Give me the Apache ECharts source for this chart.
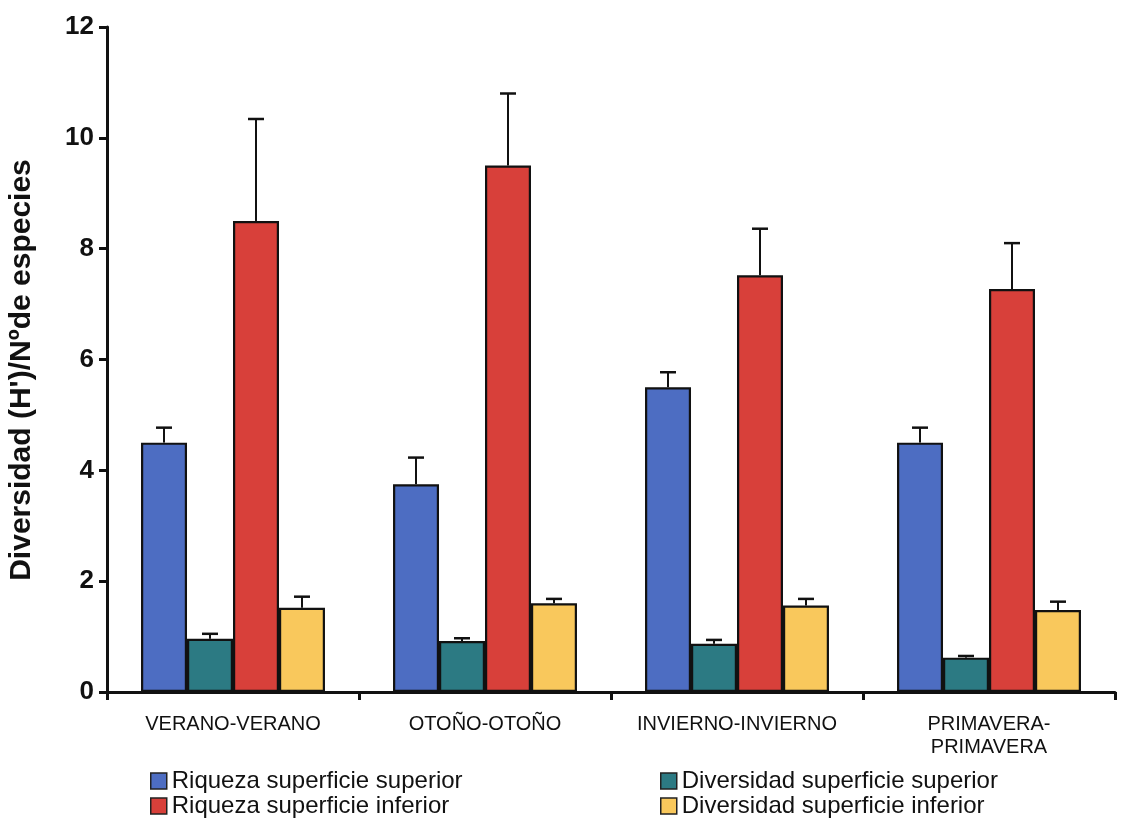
<!DOCTYPE html>
<html>
<head>
<meta charset="utf-8">
<script src="https://cdn.jsdelivr.net/npm/echarts@6/dist/echarts.min.js"></script>
<style>
  html, body { margin: 0; padding: 0; background: #fff; }
  #chart { width: 1121px; height: 830px; }
</style>
</head>
<body>
<div id="chart"></div>
<script>
// Seasonal comparison: richness and Shannon diversity on upper / lower surfaces
const categories = ['VERANO-VERANO', 'OTOÑO-OTOÑO', 'INVIERNO-INVIERNO', 'PRIMAVERA-\nPRIMAVERA'];
const seriesNames = [
  'Riqueza superficie superior',
  'Diversidad superficie superior',
  'Riqueza superficie inferior',
  'Diversidad superficie inferior'
];
const riquezaSup = [4.5, 3.75, 5.5, 4.5];
const diversidadSup = [0.96, 0.92, 0.87, 0.62];
const riquezaInf = [8.5, 9.5, 7.52, 7.27];
const diversidadInf = [1.52, 1.6, 1.56, 1.48];
// standard deviations (upper whisker only)
const riquezaSupErr = [0.27, 0.48, 0.27, 0.27];
const diversidadSupErr = [0.09, 0.05, 0.07, 0.03];
const riquezaInfErr = [1.84, 1.3, 0.84, 0.83];
const diversidadInfErr = [0.2, 0.08, 0.12, 0.15];
const yTicks = [0, 2, 4, 6, 8, 10, 12];
const yTitle = "Diversidad (H')/Nºde especies";

const values = [riquezaSup, diversidadSup, riquezaInf, diversidadInf];
const errors = [riquezaSupErr, diversidadSupErr, riquezaInfErr, diversidadInfErr];
const colors = ['#4d6dc2', '#2c7a83', '#d8403a', '#f9c85c'];

const BAR_FRACTION = 0.1825; // bar width as share of the category band
const FONT = '"Liberation Sans", Arial, sans-serif';

const barSeries = values.map((vals, i) => ({
  name: seriesNames[i],
  type: 'bar',
  data: vals,
  barWidth: (BAR_FRACTION * 100) + '%',
  barGap: '0%',
  itemStyle: { color: colors[i], borderColor: '#111', borderWidth: 2.2 },
  z: 2
}));

// upward error whisker with a cap, positioned on each grouped bar
const errorSeries = values.map((vals, i) => ({
  name: seriesNames[i] + ' err',
  type: 'custom',
  data: vals.map((v, k) => [k, v, v + errors[i][k]]),
  z: 1,
  silent: true,
  renderItem: function (params, api) {
    const k = api.value(0);
    const band = api.size([1, 0])[0];
    const bw = band * BAR_FRACTION;
    const offset = (i - 1.5) * bw;
    const base = api.coord([k, api.value(1)]);
    const top = api.coord([k, api.value(2)]);
    const x = base[0] + offset;
    const cap = 8;
    return {
      type: 'group',
      children: [
        { type: 'line', shape: { x1: x, y1: base[1], x2: x, y2: top[1] },
          style: { stroke: '#111', lineWidth: 2 } },
        { type: 'line', shape: { x1: x - cap, y1: top[1], x2: x + cap, y2: top[1] },
          style: { stroke: '#111', lineWidth: 2.5 } }
      ]
    };
  }
}));

const legendText = { fontFamily: FONT, fontSize: 24, color: '#111' };
const legendIcon = { borderColor: '#222', borderWidth: 1.5 };

const option = {
  animation: false,
  backgroundColor: '#fff',
  color: colors,
  grid: { left: 107, right: 6, top: 27, bottom: 138, containLabel: false },
  legend: [
    {
      orient: 'vertical', left: 145, top: 764, itemGap: 1,
      itemWidth: 16, itemHeight: 16, icon: 'rect',
      data: [seriesNames[0], seriesNames[2]],
      textStyle: legendText, itemStyle: legendIcon, selectedMode: false
    },
    {
      orient: 'vertical', left: 655, top: 764, itemGap: 1,
      itemWidth: 16, itemHeight: 16, icon: 'rect',
      data: [seriesNames[1], seriesNames[3]],
      textStyle: legendText, itemStyle: legendIcon, selectedMode: false
    }
  ],
  // vertical axis title, placed slightly below the plot's middle
  graphic: [{
    type: 'text',
    x: 22, y: 370,
    rotation: Math.PI / 2,
    style: {
      text: yTitle,
      fontFamily: FONT, fontSize: 30, fontWeight: 'bold', fill: '#111',
      textAlign: 'center', textVerticalAlign: 'middle'
    }
  }],
  xAxis: {
    type: 'category',
    data: categories,
    axisLine: { lineStyle: { color: '#111', width: 3 } },
    axisTick: { show: true, interval: 0, alignWithLabel: false, length: 8,
      lineStyle: { color: '#111', width: 3 } },
    axisLabel: { fontFamily: FONT, fontSize: 20, color: '#111', margin: 21,
      lineHeight: 23, interval: 0 }
  },
  yAxis: {
    type: 'value',
    min: yTicks[0], max: yTicks[yTicks.length - 1], interval: 2,
    axisLine: { show: true, lineStyle: { color: '#111', width: 3 } },
    axisTick: { show: true, length: 8, lineStyle: { color: '#111', width: 3 } },
    splitLine: { show: false },
    axisLabel: { fontFamily: FONT, fontSize: 26, fontWeight: 'bold', color: '#111', margin: 13 }
  },
  series: [...barSeries, ...errorSeries]
};

const chart = echarts.init(document.getElementById('chart'), null, { renderer: 'canvas' });
chart.setOption(option);
</script>
</body>
</html>
